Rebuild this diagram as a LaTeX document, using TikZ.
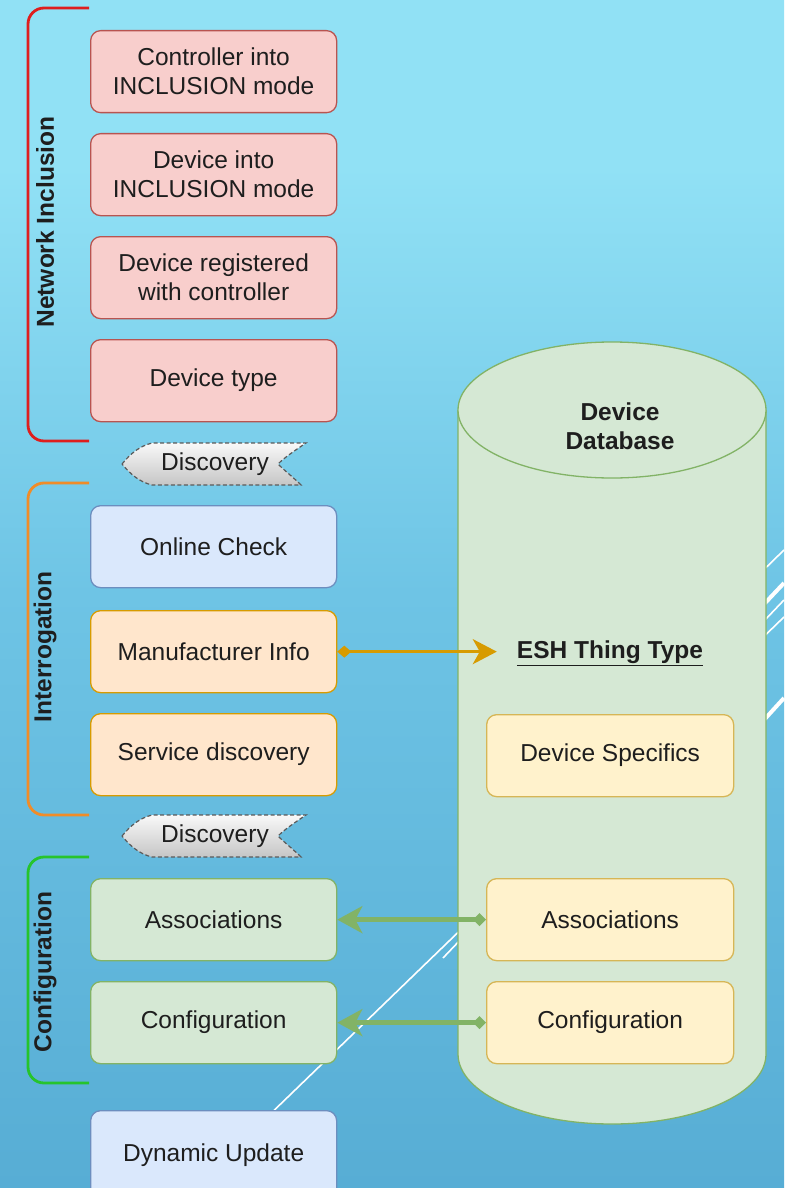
\documentclass[tikz,border=0pt]{standalone}
\usepackage{fontspec}
\setmainfont{Liberation Sans}
\usetikzlibrary{arrows.meta,shapes.geometric}

\definecolor{bgtop}{RGB}{145,225,245}
\definecolor{bgmid}{RGB}{110,196,229}
\definecolor{bgbot}{RGB}{64,150,196}
\definecolor{txt}{RGB}{30,30,30}
\definecolor{pinkfill}{HTML}{F8CECC}\definecolor{pinkline}{HTML}{B85450}
\definecolor{bluefill}{HTML}{DAE8FC}\definecolor{blueline}{HTML}{6C8EBF}
\definecolor{orfill}{HTML}{FFE6CC}\definecolor{orline}{HTML}{D79B00}
\definecolor{grfill}{HTML}{D5E8D4}\definecolor{grline}{HTML}{82B366}
\definecolor{yefill}{HTML}{FFF2CC}\definecolor{yeline}{HTML}{D6B656}
\definecolor{brred}{RGB}{222,30,30}
\definecolor{brorange}{RGB}{240,140,40}
\definecolor{brgreen}{RGB}{38,196,44}
\definecolor{tagline}{RGB}{90,90,90}

\pgfdeclareverticalshading{slidebg}{100bp}{color(0bp)=(bgbot); color(50bp)=(bgmid); color(68bp)=(bgtop); color(100bp)=(bgtop)}

\begin{document}
\begin{tikzpicture}[x=1pt,y=-1pt,
  every node/.style={font=\fontsize{24.5}{29}\selectfont, text=txt},
  box/.style={draw, rounded corners=10pt, minimum width=246pt, minimum height=82pt,
    line width=1.3pt, align=center, inner sep=0pt, anchor=north west},
  pinkbox/.style={box, fill=pinkfill, draw=pinkline},
  bluebox/.style={box, fill=bluefill, draw=blueline},
  orbox/.style={box, fill=orfill, draw=orline},
  grbox/.style={box, fill=grfill, draw=grline},
  yebox/.style={box, fill=yefill, draw=yeline, minimum width=247pt},
  bracket/.style={line width=2.8pt, rounded corners=16pt},
  phase/.style={rotate=90, font=\fontsize{24.5}{29}\selectfont\bfseries},
  tag/.style={draw=tagline, dash pattern=on 4pt off 2.5pt, line width=1.2pt,
    top color=white!95!gray, bottom color=gray!45},
  deco/.style={draw=white, line width=1.6pt},
  decothick/.style={draw=white, line width=4pt},
  orarrow/.style={draw=orline, line width=3pt,
    {Diamond[length=14pt,width=12pt]}-{Stealth[length=24pt,width=25pt,inset=7pt]}},
  grarrow/.style={draw=grline, line width=5pt,
    {Diamond[length=13pt,width=13pt]}-{Stealth[length=25pt,width=27pt,inset=7pt]}}
]
\useasboundingbox (0,0) rectangle (784,1188);

% slide background
\shade[shading=slidebg] (0,0) rectangle (784,1188);

% decorative template strokes
\draw[deco] (200,1182) -- (784,617);
\draw[deco] (443,958) -- (784,600);
\draw[deco] (700,632) -- (784,550);
\draw[decothick] (700,672) -- (784,583);
\draw[decothick] (700,790) -- (784,698);

% phase brackets
\draw[bracket, brred] (89,8) -- (28,8) -- (28,441) -- (89,441);
\draw[bracket, brorange] (89,483) -- (28,483) -- (28,815) -- (89,815);
\draw[bracket, brgreen] (89,857) -- (28,857) -- (28,1083) -- (89,1083);
\node[phase] (pNI) at (45,222) {Network Inclusion};
\node[phase] (pIN) at (45,647) {Interrogation};
\node[phase] (pCF) at (45,972) {Configuration};

% network inclusion steps
\node[pinkbox] (ni1) at (90,30) {Controller into\\INCLUSION mode};
\node[pinkbox] (ni2) at (90,133) {Device into\\INCLUSION mode};
\node[pinkbox] (ni3) at (90,236) {Device registered\\with controller};
\node[pinkbox] (ni4) at (90,339) {Device type};

% interrogation steps
\node[bluebox] (online) at (90,505) {Online Check};
\node[orbox] (mfr) at (90,610) {Manufacturer Info};
\node[orbox] (svc) at (90,713) {Service discovery};

% configuration steps
\node[grbox] (assocL) at (90,878) {Associations};
\node[grbox] (confL) at (90,981) {Configuration};
\node[bluebox, minimum height=90pt] (dyn) at (90,1110) {\raisebox{3pt}{Dynamic Update}};

% discovery tags
\foreach \ty/\nm in {443/disc1, 815/disc2}{
  \begin{scope}[shift={(122,\ty)}]
    \path[tag] (0,21) .. controls (9,10) and (18,3) .. (30,0) -- (184,0)
      .. controls (172,8) and (162,15) .. (156,21)
      .. controls (163,28) and (172,35) .. (179,42) -- (30,42)
      .. controls (18,39) and (9,32) .. cycle;
    \node (\nm) at (93,21) {Discovery};
  \end{scope}
}

% device database cylinder
\path[fill=grfill] (458,410) -- (458,1054)
  .. controls (458,1093) and (527,1124) .. (612,1124)
  .. controls (697,1124) and (766,1093) .. (766,1054) -- (766,410) -- cycle;
\draw[grline, line width=1.3pt] (458,410) -- (458,1054)
  .. controls (458,1093) and (527,1124) .. (612,1124)
  .. controls (697,1124) and (766,1093) .. (766,1054) -- (766,410);
\draw[grline, line width=1.3pt, fill=grfill] (612,410) ellipse [x radius=154, y radius=68];
\node[align=center, font=\fontsize{24.5}{29}\selectfont\bfseries] (db) at (620,426) {Device\\Database};

\node[font=\fontsize{24.5}{29}\selectfont\bfseries, inner sep=2pt] (esh) at (610,653) {\underline{ESH Thing Type}};
\node[yebox] (spec) at (486,714) {Device Specifics};
\node[yebox] (assocR) at (486,878) {Associations};
\node[yebox] (confR) at (486,981) {Configuration};

% connectors
\draw[orarrow] (mfr.east) -- ([xshift=-18pt]mfr.east -| esh.west);
\draw[grarrow] (assocR.west) -- (assocL.east);
\draw[grarrow] (confR.west) -- (confL.east);
\end{tikzpicture}
\end{document}
